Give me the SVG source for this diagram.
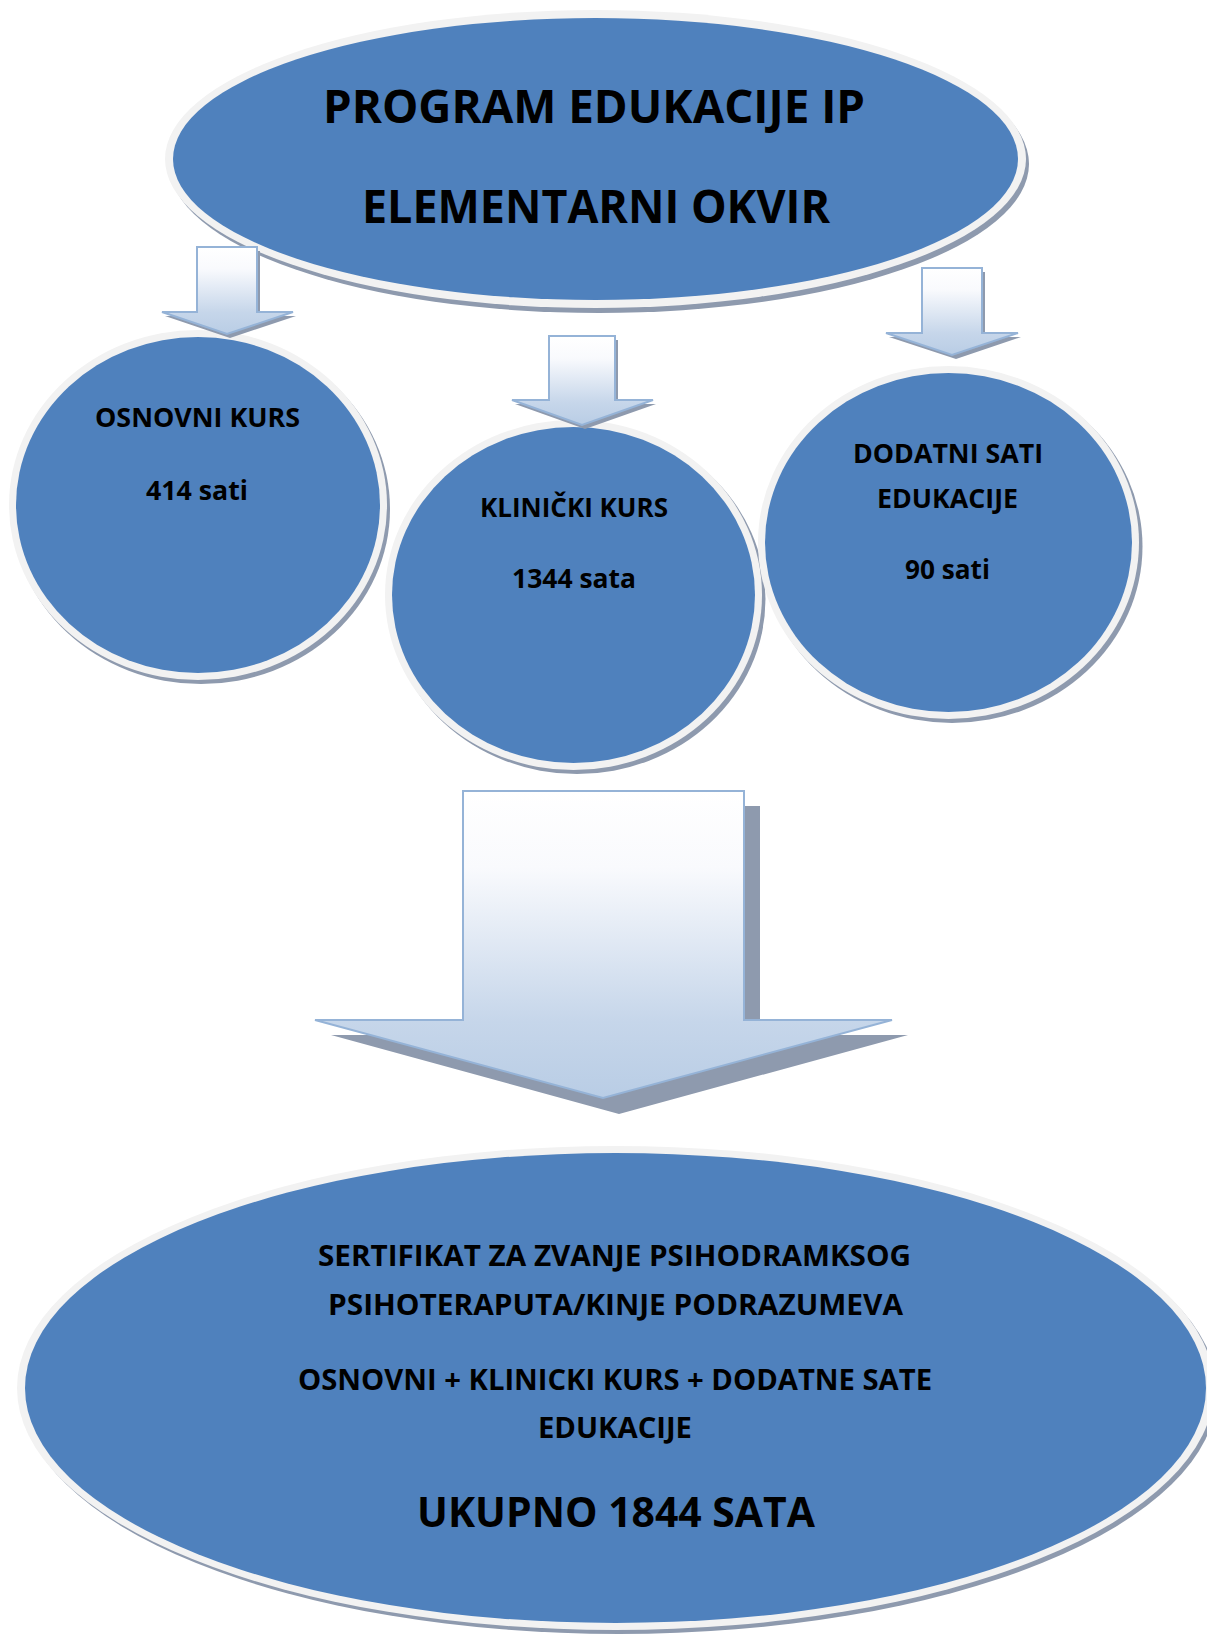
<svg xmlns="http://www.w3.org/2000/svg" width="1207" height="1634" viewBox="0 0 1207 1634">
<defs>
<linearGradient id="arrowGrad" x1="0" y1="0" x2="0" y2="1">
<stop offset="0" stop-color="#ffffff"/>
<stop offset="0.25" stop-color="#f9fafd"/>
<stop offset="0.75" stop-color="#c6d6ea"/>
<stop offset="1" stop-color="#b9cde5"/>
</linearGradient>
</defs>
<style>
.shadow{fill:#8e9aae}
.rim{fill:#f2f2f2}
.body{fill:#4f81bd}
.arrow{fill:url(#arrowGrad);stroke:#95b3d7;stroke-width:2;stroke-linejoin:miter}
.ashadow{fill:#8e9aae}
text{font-family:"Open Sans","Lato","Liberation Sans",sans-serif;font-weight:bold;fill:#000;text-anchor:middle;font-variant-ligatures:none}
.t1{font-size:46px}
.t2{font-size:26.5px}
.t3{font-size:29px}
.t4{font-size:42px}
</style>
<rect width="1207" height="1634" fill="#ffffff"/>

<g id="node-top">
<ellipse class="shadow" cx="599" cy="164" rx="430" ry="149"/>
<ellipse class="rim" cx="595.5" cy="159" rx="430.5" ry="149"/>
<ellipse class="body" cx="595.5" cy="159" rx="422.5" ry="141"/>
<text class="t1" x="594" y="123" textLength="542" lengthAdjust="spacingAndGlyphs">PROGRAM EDUKACIJE IP</text>
<text class="t1" x="596" y="223" textLength="468" lengthAdjust="spacingAndGlyphs">ELEMENTARNI OKVIR</text>
</g>

<g id="node-osnovni">
<ellipse class="shadow" cx="201" cy="509" rx="189" ry="175"/>
<ellipse class="rim" cx="198" cy="505" rx="189" ry="175"/>
<ellipse class="body" cx="198" cy="505" rx="182" ry="168"/>
<text class="t2" x="197.5" y="427" textLength="205" lengthAdjust="spacingAndGlyphs">OSNOVNI KURS</text>
<text class="t2" x="197" y="500" textLength="102" lengthAdjust="spacingAndGlyphs">414 sati</text>
</g>

<g id="node-klinicki">
<ellipse class="shadow" cx="577" cy="599" rx="188.5" ry="175"/>
<ellipse class="rim" cx="573.5" cy="595" rx="188.5" ry="175"/>
<ellipse class="body" cx="573.5" cy="595" rx="181.5" ry="168"/>
<text class="t2" x="574" y="517" textLength="188" lengthAdjust="spacingAndGlyphs">KLINIČKI KURS</text>
<text class="t2" x="574" y="588" textLength="124" lengthAdjust="spacingAndGlyphs">1344 sata</text>
</g>

<g id="node-dodatni">
<ellipse class="shadow" cx="952" cy="546.5" rx="190.5" ry="176.5"/>
<ellipse class="rim" cx="948.5" cy="542.5" rx="190.5" ry="176.5"/>
<ellipse class="body" cx="948.5" cy="542.5" rx="183.5" ry="169.5"/>
<text class="t2" x="948" y="463" textLength="190" lengthAdjust="spacingAndGlyphs">DODATNI SATI</text>
<text class="t2" x="947.5" y="508" textLength="141" lengthAdjust="spacingAndGlyphs">EDUKACIJE</text>
<text class="t2" x="947.5" y="579" textLength="85" lengthAdjust="spacingAndGlyphs">90 sati</text>
</g>

<g id="node-sertifikat">
<ellipse class="shadow" cx="619" cy="1392" rx="598" ry="242"/>
<ellipse class="rim" cx="615.5" cy="1388" rx="598.5" ry="242"/>
<ellipse class="body" cx="615.5" cy="1388" rx="590.5" ry="235"/>
<text class="t3" x="614.5" y="1266" textLength="593" lengthAdjust="spacingAndGlyphs">SERTIFIKAT ZA ZVANJE PSIHODRAMKSOG</text>
<text class="t3" x="615.5" y="1315" textLength="575" lengthAdjust="spacingAndGlyphs">PSIHOTERAPUTA/KINJE PODRAZUMEVA</text>
<text class="t3" x="615" y="1390" textLength="634" lengthAdjust="spacingAndGlyphs">OSNOVNI + KLINICKI KURS + DODATNE SATE</text>
<text class="t3" x="615" y="1438" textLength="154" lengthAdjust="spacingAndGlyphs">EDUKACIJE</text>
<text class="t4" x="616" y="1527" textLength="398" lengthAdjust="spacingAndGlyphs">UKUPNO 1844 SATA</text>
</g>

<g id="connectors">
<polygon class="ashadow" points="200,251 260,251 260,316 296,316 230,338 165,316 200,316"/>
<polygon class="arrow" points="197,247 257,247 257,312 293,312 227,334 162,312 197,312"/>
<polygon class="ashadow" points="552,340 618,340 618,404 656,404 585,429 515,404 552,404"/>
<polygon class="arrow" points="549,336 615,336 615,400 653,400 582,425 512,400 549,400"/>
<polygon class="ashadow" points="925,272 985,272 985,337 1021,337 956,359 889,337 925,337"/>
<polygon class="arrow" points="922,268 982,268 982,333 1018,333 952,355 886,333 922,333"/>
<polygon class="ashadow" points="479,806 760,806 760,1035 908,1035 619,1114 331,1035 479,1035"/>
<polygon class="arrow" points="463,791 744,791 744,1020 892,1020 603,1098 315,1020 463,1020"/>
</g>
</svg>
